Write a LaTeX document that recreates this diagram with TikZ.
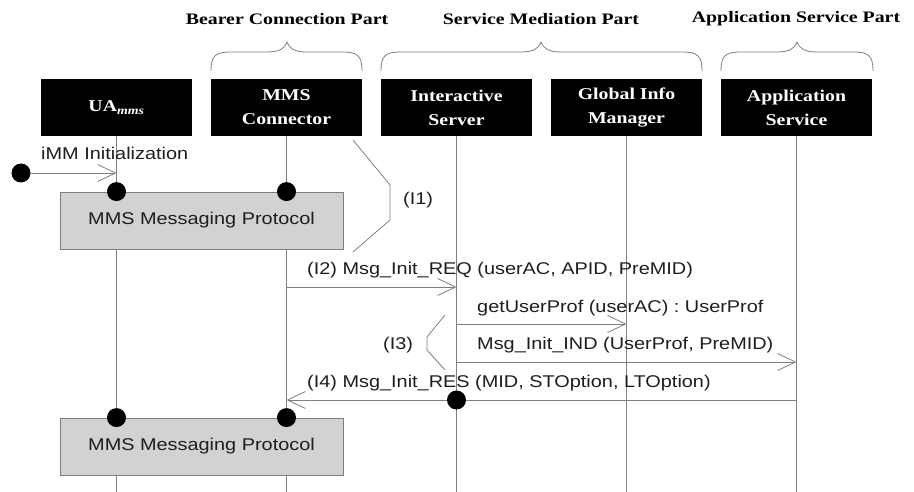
\documentclass[tikz,border=0pt]{standalone}
\usepackage{fontspec}
\usetikzlibrary{arrows.meta}
\newfontfamily\labfont[FakeStretch=1.17]{Liberation Sans}
\newfontfamily\headfont[FakeStretch=1.2]{Liberation Serif}
\newfontfamily\titlefont[FakeStretch=1.24]{Liberation Serif}
\definecolor{linegray}{HTML}{7F7F7F}
\definecolor{boxgray}{HTML}{D2D2D2}
\definecolor{inkgray}{HTML}{1E1E1E}

% curly brace over a group of participants: left end, tip, right end
\newcommand\partbrace[3]{%
  \draw[brace] (#1,71) .. controls (#1,56) and ({#1+4},52) .. ({#1+20},52)
    -- ({#2-20},52) .. controls ({#2-7},52) and ({#2-2},48) .. (#2,42)
    .. controls ({#2+2},48) and ({#2+7},52) .. ({#2+20},52)
    -- ({#3-20},52) .. controls ({#3-4},52) and (#3,56) .. (#3,71);}

\begin{document}
\begin{tikzpicture}[x=1pt,y=-1pt,
  actor/.style={fill=black, text=white, minimum width=151pt, minimum height=57pt,
    inner sep=0pt, align=center, font=\headfont\bfseries\fontsize{16.5}{24}\selectfont},
  parttitle/.style={inner sep=0pt, font=\titlefont\bfseries\fontsize{16}{19}\selectfont},
  protobox/.style={fill=boxgray, draw=linegray, line width=0.8pt, minimum width=283pt,
    minimum height=57pt, inner sep=0pt, text=inkgray, font=\labfont\fontsize{17}{20}\selectfont},
  lab/.style={inner sep=0pt, anchor=base west, text=inkgray, font=\labfont\fontsize{17}{20}\selectfont},
  dot/.style={circle, fill=black, minimum size=19pt, inner sep=0pt},
  life/.style={draw=linegray, line width=0.8pt},
  msg/.style={draw=linegray, line width=0.8pt, -{Straight Barb[length=18pt,width=17pt]}},
  plain/.style={draw=linegray, line width=0.8pt},
  brace/.style={draw=linegray, line width=0.8pt},
  bracket/.style={draw=linegray, line width=0.8pt}]
\useasboundingbox (0,0) rectangle (914,492);

% group titles and braces
\node[parttitle] (tbearer) at (287,19) {Bearer Connection Part};
\node[parttitle] (tmed) at (541,19) {Service Mediation Part};
\node[parttitle] (tapp) at (796,19) {Application Service Part};
\partbrace{211}{287}{362}
\partbrace{381}{541}{702}
\partbrace{721}{797}{873}

% participants
\node[actor] (ua)  at (116.5,107.5) {UA\textsubscript{\textit{mms}}};
\node[actor] (mms) at (286.5,107.5) {MMS\\Connector};
\node[actor] (is)  at (456.5,107.5) {Interactive\\Server};
\node[actor] (gim) at (626.5,107.5) {Global Info\\Manager};
\node[actor] (as)  at (796.5,107.5) {Application\\Service};

% lifeline ends
\foreach \n in {ua,mms,is,gim,as}
  \coordinate (\n-end) at (\n.south |- 0,492);
\foreach \n in {ua,mms,is,gim,as}
  \draw[life] (\n.south) -- (\n-end);

% message anchor points on the lifelines
\coordinate (init-s) at (21,173);
\coordinate (init-e) at (ua.south |- 0,173);
\coordinate (req-s) at (mms.south |- 0,287);
\coordinate (req-e) at (is.south |- 0,287);
\coordinate (prof-s) at (is.south |- 0,324);
\coordinate (prof-e) at (gim.south |- 0,324);
\coordinate (ind-s) at (is.south |- 0,362);
\coordinate (ind-e) at (as.south |- 0,362);
\coordinate (res-s) at (as.south |- 0,400);
\coordinate (res-m) at (is.south |- 0,400);
\coordinate (res-e) at (mms.south |- 0,400);

% protocol boxes with their attachment dots
\node[protobox] (proto1) at (201.5,220.5) {MMS Messaging Protocol};
\node[protobox] (proto2) at (201.5,446.5) {MMS Messaging Protocol};
\node[dot] (d1) at (ua.south |- proto1.north) {};
\node[dot] (d2) at (mms.south |- proto1.north) {};
\node[dot] (d3) at (ua.south |- proto2.north) {};
\node[dot] (d4) at (mms.south |- proto2.north) {};

% initialisation
\node[dot] (d0) at (init-s) {};
\draw[msg] (d0) -- (init-e);
\node[lab] (linit) at (41,160) {iMM Initialization};

% phase (I1)
\draw[bracket] (353,140) -- (390,185) -- (390,220) -- (353,252);
\node[lab] (li1) at (403,205) {(I1)};

% messages
\draw[msg] (req-s) -- (req-e);
\node[lab] (lreq) at (307,274) {(I2) Msg\_Init\_REQ (userAC, APID, PreMID)};
\draw[msg] (prof-s) -- (prof-e);
\node[lab] (lprof) at (477,312) {getUserProf (userAC) : UserProf};
\draw[msg] (ind-s) -- (ind-e);
\node[lab] (lind) at (477,349) {Msg\_Init\_IND (UserProf, PreMID)};

% phase (I3)
\draw[bracket] (445,315) -- (427,337) -- (427,350) -- (445,370);
\node[lab] (li3) at (383,349) {(I3)};

% response
\draw[plain] (res-s) -- (res-m);
\draw[msg] (res-m) -- (res-e);
\node[dot] (d5) at (res-m) {};
\node[lab] (lres) at (307,387) {(I4) Msg\_Init\_RES (MID, STOption, LTOption)};
\end{tikzpicture}
\end{document}
